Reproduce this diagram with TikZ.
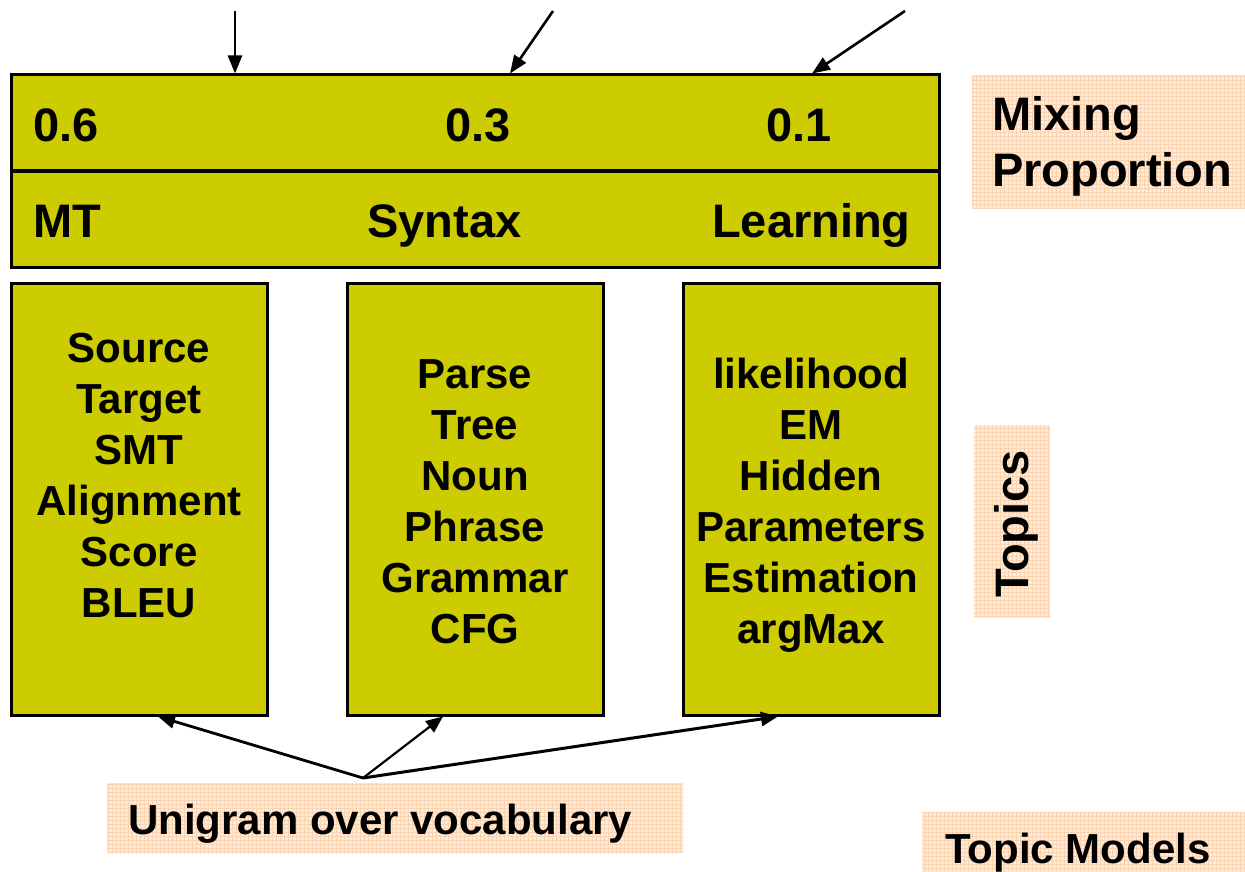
\documentclass[tikz,border=0pt]{standalone}
\usepackage{fontspec}
\setmainfont{Liberation Sans}
\usetikzlibrary{arrows.meta,calc}
\definecolor{boxfill}{HTML}{CCCC00}
\definecolor{peach}{HTML}{FDEADA}
\definecolor{peachline}{HTML}{F9D4B2}
\begin{document}
\begin{tikzpicture}[x=1pt,y=-1pt,
  boxstyle/.style={draw=black,line width=3pt,fill=boxfill,inner sep=0pt},
  big/.style={font=\fontsize{47}{56}\selectfont\bfseries,inner sep=0pt},
  words/.style={font=\fontsize{42}{51}\selectfont\bfseries,inner sep=0pt},
  toparr/.style={line width=2.6pt,-{Triangle[length=18pt,width=14pt]}},
  botarr/.style={line width=2.8pt,-{Triangle[length=17pt,width=14pt]}},
  patchfill/.style={fill=peach},
  patchgrid/.style={draw=peachline,line width=0.5pt}]
\useasboundingbox (0,0) rectangle (1245,872);

% textured label patches
\fill[patchfill] (972,75) rectangle (1245,209);
\draw[patchgrid,step=4pt] (972,75) grid (1245,209);
\fill[patchfill] (974,425) rectangle (1050,618);
\draw[patchgrid,step=4pt] (974,425) grid (1050,618);
\fill[patchfill] (107,783) rectangle (683,853);
\draw[patchgrid,step=4pt] (107,783) grid (683,853);
\fill[patchfill] (922,812) rectangle (1245,872);
\draw[patchgrid,step=4pt] (922,812) grid (1245,872);

% mixing proportion box
\node[boxstyle,minimum width=928pt,minimum height=192pt] (mix) at (475,171) {};
\draw[line width=3pt] (mix.west) -- (mix.east);
\node[big,anchor=base west] (p1) at (33,142) {0.6};
\node[big,anchor=base west] (p2) at (445,142) {0.3};
\node[big,anchor=base west] (p3) at (766,142) {0.1};
\node[big,anchor=base west] (t1) at (33,237) {MT};
\node[big,anchor=base west] (t2) at (367,237) {Syntax};
\node[big,anchor=base west] (t3) at (712,237) {Learning};

% topic boxes
\node[boxstyle,minimum width=256pt,minimum height=432pt] (b1) at (139,499) {};
\node[boxstyle,minimum width=256pt,minimum height=432pt] (b2) at (475,499) {};
\node[boxstyle,minimum width=256pt,minimum height=432pt] (b3) at (811,499) {};
\node[words,anchor=base] (w1) at (139,362) {\begin{tabular}[t]{@{}c@{}}Source\\Target\\SMT\\Alignment\\Score\\BLEU\end{tabular}};
\node[words,anchor=base] (w2) at (475,388) {\begin{tabular}[t]{@{}c@{}}Parse\\Tree\\Noun\\Phrase\\Grammar\\CFG\end{tabular}};
\node[words,anchor=base] (w3) at (811,388) {\begin{tabular}[t]{@{}c@{}}likelihood\\EM\\Hidden\\Parameters\\Estimation\\argMax\end{tabular}};

% side labels
\node[big,anchor=base west] (mixlab) at (992,131) {\begin{tabular}[t]{@{}l@{}}Mixing\\Proportion\end{tabular}};
\node[big,rotate=90,anchor=base] (topics) at (1028,524) {Topics};
\node[words,anchor=base west] (uni) at (128,834) {Unigram over vocabulary};
\node[words,anchor=base west] (tm) at (945,863) {Topic Models};

% top arrows
\coordinate (s1) at (235,11);
\coordinate (s2) at (553,11);
\coordinate (s3) at (905,11);
\draw[toparr] (s1) -- ($(mix.north)+(-240,0)$);
\draw[toparr] (s2) -- ($(mix.north)+(35,0)$);
\draw[toparr] (s3) -- ($(mix.north)+(337,0)$);

% bottom arrows
\coordinate (src) at (363,778);
\draw[botarr] (src) -- ($(b1.south)+(19,0)$);
\draw[botarr,line width=2.2pt] (src) -- ($(b2.south)+(-32,0)$);
\draw[botarr,line width=3pt] (src) -- ($(b3.south)+(-33,0)$);
\end{tikzpicture}
\end{document}
